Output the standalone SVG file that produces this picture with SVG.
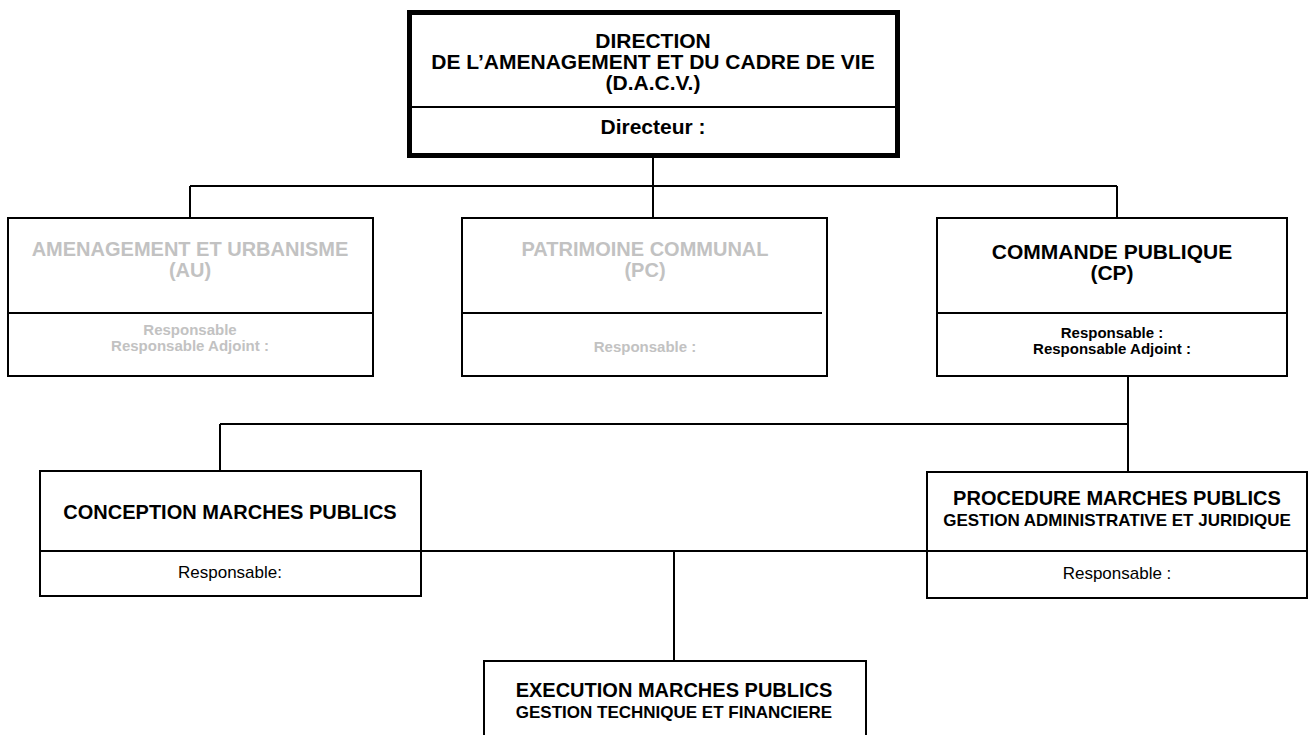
<svg xmlns="http://www.w3.org/2000/svg" width="1316" height="735" viewBox="0 0 1316 735">
<style>
  .box{fill:#ffffff;stroke:#000000;stroke-width:2}
  .top{fill:#ffffff;stroke:#000000;stroke-width:5}
  .div{stroke:#000000;stroke-width:2}
  .con{fill:none;stroke:#000000;stroke-width:2}
  text{font-family:"Liberation Sans",Arial,sans-serif;text-anchor:middle;fill:#000000}
  .t21{font-size:21px;font-weight:bold}
  .t20{font-size:20px;font-weight:bold}
  .t17{font-size:17px;font-weight:bold}
  .r15{font-size:15px;font-weight:bold}
  .reg{font-size:17px}
  .gray{fill:#c2c2c2}
</style>
<rect width="1316" height="735" fill="#ffffff"/>
<g id="connectors">
  <path class="con" d="M653,157 V186 M190,186 H1117 M190,186 V218 M653,186 V218 M1117,186 V218"/>
  <path class="con" d="M1128,376 V472 M220,424 H1128 M220,424 V471"/>
  <path class="con" d="M421,551 H927 M674,551 V661"/>
</g>
<g id="dacv">
  <rect class="top" x="409.5" y="12.5" width="488" height="143"/>
  <line class="div" x1="412" y1="107" x2="895" y2="107"/>
  <text class="t21" x="653" y="48">DIRECTION</text>
  <text class="t21" x="653" y="69">DE L’AMENAGEMENT ET DU CADRE DE VIE</text>
  <text class="t21" x="653" y="90">(D.A.C.V.)</text>
  <text class="t21" x="653" y="134">Directeur :</text>
</g>
<g id="au">
  <rect class="box" x="8" y="218" width="365" height="158"/>
  <line class="div" x1="8" y1="313" x2="373" y2="313"/>
  <text class="t20 gray" x="190" y="256">AMENAGEMENT ET URBANISME</text>
  <text class="t20 gray" x="190" y="277">(AU)</text>
  <text class="r15 gray" x="190" y="335">Responsable</text>
  <text class="r15 gray" x="190" y="351">Responsable Adjoint :</text>
</g>
<g id="pc">
  <rect class="box" x="462" y="218" width="365" height="158"/>
  <line class="div" x1="462" y1="313" x2="822" y2="313"/>
  <text class="t20 gray" x="645" y="256">PATRIMOINE COMMUNAL</text>
  <text class="t20 gray" x="645" y="277">(PC)</text>
  <text class="r15 gray" x="645" y="352">Responsable :</text>
</g>
<g id="cp">
  <rect class="box" x="937" y="218" width="350" height="158"/>
  <line class="div" x1="937" y1="313" x2="1287" y2="313"/>
  <text class="t21" x="1112" y="259">COMMANDE PUBLIQUE</text>
  <text class="t21" x="1112" y="280">(CP)</text>
  <text class="r15" x="1112" y="338">Responsable :</text>
  <text class="r15" x="1112" y="354">Responsable Adjoint :</text>
</g>
<g id="conception">
  <rect class="box" x="40" y="471" width="381" height="125"/>
  <line class="div" x1="40" y1="551" x2="421" y2="551"/>
  <text class="t20" x="230" y="519">CONCEPTION MARCHES PUBLICS</text>
  <text class="reg" x="230" y="578">Responsable:</text>
</g>
<g id="procedure">
  <rect class="box" x="927" y="472" width="380" height="126"/>
  <line class="div" x1="927" y1="551" x2="1307" y2="551"/>
  <text class="t20" x="1117" y="505">PROCEDURE MARCHES PUBLICS</text>
  <text class="t17" x="1117" y="526">GESTION ADMINISTRATIVE ET JURIDIQUE</text>
  <text class="reg" x="1117" y="579">Responsable :</text>
</g>
<g id="execution">
  <rect class="box" x="484" y="661" width="382" height="110"/>
  <text class="t20" x="674" y="697">EXECUTION MARCHES PUBLICS</text>
  <text class="t17" x="674" y="718">GESTION TECHNIQUE ET FINANCIERE</text>
</g>
</svg>
